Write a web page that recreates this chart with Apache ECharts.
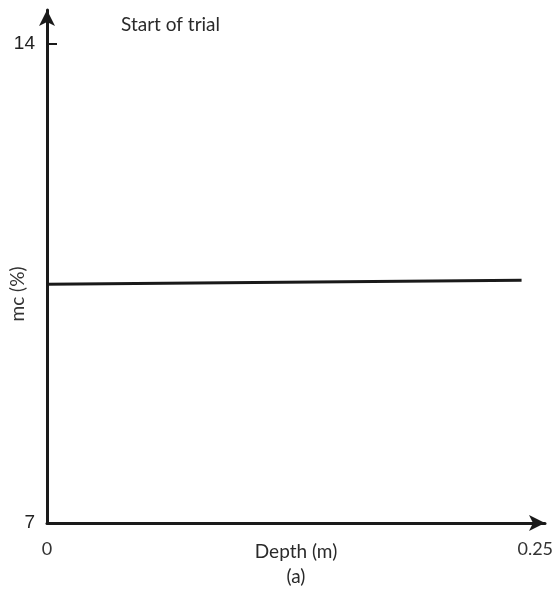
<!DOCTYPE html>
<html>
<head>
<meta charset="utf-8">
<script src="https://cdn.jsdelivr.net/npm/echarts@6/dist/echarts.min.js"></script>
<style>html,body{margin:0;padding:0;background:#fff}#c{width:558px;height:589px}</style>
</head>
<body>
<div id="c"></div>
<script>
// Moisture content profile at the start of the trial
const depths = [0, 0.243];
const mcValues = [10.49, 10.55];
const xTickLabels = [0, 0.25];
const yTickLabels = [7, 14];

const ink = '#1a1a1a';
const font = 'Lato, "Open Sans", sans-serif';

const chart = echarts.init(document.getElementById('c'));
chart.setOption({
  animation: false,
  backgroundColor: '#fff',
  title: {
    text: 'Start of trial',
    left: 116, top: 10,
    textStyle: { fontFamily: font, fontSize: 19, fontWeight: 'normal', color: '#2a2a2a' }
  },
  grid: { left: 47, right: 13, top: 10, bottom: 66, outerBoundsMode: 'none', containLabel: false },
  xAxis: {
    type: 'value', min: 0, max: 0.255,
    name: 'Depth (m)\n(a)', nameLocation: 'middle', nameGap: 16, nameMoveOverlap: false,
    nameTextStyle: { fontFamily: font, fontSize: 19, color: '#2a2a2a', lineHeight: 25, verticalAlign: 'top' },
    axisLine: { show: true, lineStyle: { color: ink, width: 3 }, symbol: ['none', 'arrow'], symbolSize: [12, 16] },
    axisTick: { show: false },
    splitLine: { show: false },
    axisLabel: { customValues: xTickLabels, margin: 17, fontFamily: font, fontSize: 18, color: '#333' }
  },
  yAxis: {
    type: 'value', min: 7, max: 14.5,
    axisLine: { show: true, lineStyle: { color: ink, width: 3 }, symbol: ['none', 'arrow'], symbolSize: [12, 16] },
    axisTick: { show: true, customValues: [14], inside: true, length: 10, lineStyle: { color: ink, width: 2 } },
    splitLine: { show: false },
    axisLabel: { customValues: yTickLabels, margin: 12, fontFamily: 'Liberation Sans, sans-serif', fontSize: 19, color: '#222' }
  },
  graphic: [{
    type: 'text', x: 18, y: 294, rotation: Math.PI / 2,
    style: { text: 'mc (%)', fontFamily: font, fontSize: 19, fill: '#333', align: 'center', verticalAlign: 'middle' }
  }],
  series: [{
    type: 'line',
    data: depths.map((d, i) => [d, mcValues[i]]),
    symbol: 'none',
    lineStyle: { color: ink, width: 3 }
  }]
});
</script>
</body>
</html>
